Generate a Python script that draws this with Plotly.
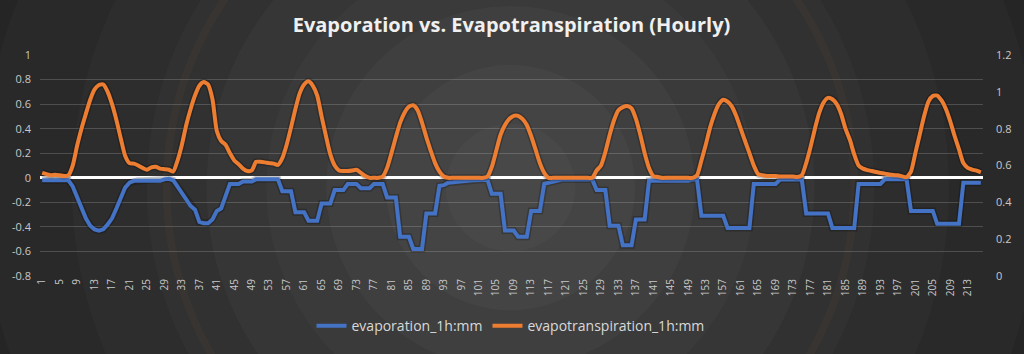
import plotly.graph_objects as go

# ---------------- data ----------------
hours = list(range(1, 217))
x_tick_labels = [str(v) for v in range(1, 217, 4)]

left_ticks = [-0.8, -0.6, -0.4, -0.2, 0, 0.2, 0.4, 0.6, 0.8, 1]
left_tick_text = ["-0.8", "-0.6", "-0.4", "-0.2", "0", "0.2", "0.4", "0.6", "0.8", "1"]
right_ticks = [0, 0.2, 0.4, 0.6, 0.8, 1.0, 1.2]
right_tick_text = ["0", "0.2", "0.4", "0.6", "0.8", "1", "1.2"]

evaporation = [
    -0.02, -0.02, -0.02, -0.02, -0.02, -0.02, -0.02, -0.07, -0.16, -0.25,        # 1-10
    -0.33, -0.39, -0.42, -0.43, -0.42, -0.38, -0.33, -0.25, -0.16, -0.08,        # 11-20
    -0.04, -0.025, -0.025, -0.025, -0.025, -0.025, -0.025, -0.025, -0.013, -0.008,  # 21-30
    -0.02, -0.07, -0.12, -0.18, -0.23, -0.26, -0.36, -0.37, -0.37, -0.34,        # 31-40
    -0.27, -0.25, -0.15, -0.05, -0.05, -0.05, -0.03, -0.03, -0.03, -0.013,       # 41-50
    -0.013, -0.013, -0.013, -0.013, -0.013, -0.11, -0.11, -0.11, -0.28, -0.28,   # 51-60
    -0.28, -0.35, -0.35, -0.35, -0.21, -0.21, -0.21, -0.10, -0.10, -0.10,        # 61-70
    -0.05, -0.05, -0.05, -0.085, -0.085, -0.085, -0.05, -0.05, -0.05, -0.16,     # 71-80
    -0.16, -0.16, -0.48, -0.48, -0.48, -0.58, -0.58, -0.58, -0.29, -0.29,        # 81-90
    -0.29, -0.065, -0.06, -0.04, -0.035, -0.03, -0.027, -0.025, -0.022, -0.02,   # 91-100
    -0.018, -0.016, -0.016, -0.13, -0.13, -0.13, -0.43, -0.43, -0.43, -0.48,     # 101-110
    -0.48, -0.48, -0.27, -0.27, -0.27, -0.05, -0.04, -0.03, -0.02, -0.015,       # 111-120
    -0.015, -0.015, -0.015, -0.015, -0.015, -0.015, -0.015, -0.10, -0.10, -0.10, # 121-130
    -0.39, -0.39, -0.39, -0.55, -0.55, -0.55, -0.34, -0.34, -0.34, -0.025,       # 131-140
    -0.025, -0.025, -0.025, -0.025, -0.025, -0.025, -0.025, -0.025, -0.025, -0.015,  # 141-150
    -0.015, -0.31, -0.31, -0.31, -0.31, -0.31, -0.31, -0.41, -0.41, -0.41,       # 151-160
    -0.41, -0.41, -0.41, -0.05, -0.05, -0.05, -0.05, -0.05, -0.05, -0.015,       # 161-170
    -0.015, -0.015, -0.015, -0.015, -0.015, -0.29, -0.29, -0.29, -0.29, -0.29,   # 171-180
    -0.29, -0.41, -0.41, -0.41, -0.41, -0.41, -0.41, -0.05, -0.05, -0.05,        # 181-190
    -0.05, -0.05, -0.05, -0.013, -0.013, -0.013, -0.013, -0.013, -0.013, -0.27,  # 191-200
    -0.27, -0.27, -0.27, -0.27, -0.27, -0.375, -0.375, -0.375, -0.375, -0.375,   # 201-210
    -0.375, -0.04, -0.04, -0.04, -0.04, -0.04,                                   # 211-216
]

evapotranspiration = [
    0.56, 0.553, 0.547, 0.55, 0.547, 0.543, 0.547, 0.6, 0.707, 0.8,              # 1-10
    0.88, 0.957, 1.013, 1.037, 1.04, 1.0, 0.933, 0.847, 0.747, 0.653,            # 11-20
    0.613, 0.61, 0.6, 0.587, 0.577, 0.59, 0.593, 0.583, 0.58, 0.577,             # 21-30
    0.567, 0.627, 0.713, 0.82, 0.907, 0.98, 1.033, 1.053, 1.04, 0.96,            # 31-40
    0.787, 0.733, 0.713, 0.667, 0.627, 0.607, 0.583, 0.57, 0.573, 0.62,          # 41-50
    0.62, 0.617, 0.613, 0.61, 0.603, 0.64, 0.713, 0.807, 0.907, 0.993,           # 51-60
    1.04, 1.057, 1.033, 0.98, 0.867, 0.76, 0.66, 0.6, 0.573, 0.57,               # 61-70
    0.57, 0.573, 0.577, 0.56, 0.543, 0.533, 0.533, 0.533, 0.54, 0.587,           # 71-80
    0.667, 0.753, 0.833, 0.887, 0.92, 0.927, 0.9, 0.833, 0.753, 0.68,            # 81-90
    0.613, 0.567, 0.54, 0.533, 0.533, 0.533, 0.533, 0.533, 0.533, 0.533,         # 91-100
    0.533, 0.533, 0.54, 0.593, 0.68, 0.767, 0.82, 0.853, 0.87, 0.87,             # 101-110
    0.853, 0.82, 0.76, 0.687, 0.613, 0.56, 0.533, 0.533, 0.533, 0.533,           # 111-120
    0.533, 0.533, 0.533, 0.533, 0.533, 0.533, 0.533, 0.573, 0.6, 0.673,          # 121-130
    0.767, 0.847, 0.9, 0.917, 0.923, 0.91, 0.853, 0.767, 0.667, 0.587,           # 131-140
    0.543, 0.538, 0.533, 0.533, 0.533, 0.533, 0.533, 0.533, 0.533, 0.533,        # 141-150
    0.547, 0.627, 0.713, 0.807, 0.88, 0.933, 0.957, 0.947, 0.92, 0.867,          # 151-160
    0.8, 0.733, 0.667, 0.6, 0.553, 0.547, 0.543, 0.543, 0.543, 0.54,             # 161-170
    0.54, 0.54, 0.54, 0.538, 0.547, 0.613, 0.7, 0.8, 0.887, 0.943,               # 171-180
    0.967, 0.96, 0.933, 0.88, 0.8, 0.74, 0.66, 0.6, 0.583, 0.575,                # 181-190
    0.57, 0.565, 0.56, 0.556, 0.551, 0.548, 0.547, 0.541, 0.537, 0.567,          # 191-200
    0.667, 0.767, 0.867, 0.947, 0.977, 0.98, 0.953, 0.907, 0.84, 0.76,           # 201-210
    0.687, 0.613, 0.587, 0.578, 0.572, 0.563,                                    # 211-216
]
assert len(evaporation) == 216 and len(evapotranspiration) == 216

# ---------------- layout geometry (pixels) ----------------
W, H = 1024, 354
PL, PR, PT, PB = 40, 986, 55, 280   # plot area edges


def circle(cx, cy, r, fill=None, line=None, lw=0):
    return dict(
        type="circle", xref="paper", yref="paper", layer="below",
        x0=(cx - r - PL) / (PR - PL), x1=(cx + r - PL) / (PR - PL),
        y0=(PB - (cy + r)) / (PB - PT), y1=(PB - (cy - r)) / (PB - PT),
        fillcolor=fill if fill else "rgba(0,0,0,0)",
        line=dict(width=lw, color=line if line else "rgba(0,0,0,0)"),
    )


rings = [(640, "#252525"), (530, "#292929"), (440, "#2d2d2d"), (365, "#313131"),
         (305, "#363636"), (245, "#3a3a3a"), (185, "#3f3f3f"), (125, "#444444"),
         (65, "#484848")]
shapes = [circle(512, 190, r, fill=c) for r, c in rings]
shapes.append(circle(512, 190, 345, line="rgba(110,75,50,0.10)", lw=8))

fig = go.Figure()
# soft dark shadows under the lines
fig.add_trace(go.Scatter(
    x=hours, y=evaporation, mode="lines", showlegend=False, hoverinfo="skip",
    line=dict(color="rgba(0,0,0,0.22)", width=7), yaxis="y"))
fig.add_trace(go.Scatter(
    x=hours, y=evapotranspiration, mode="lines", showlegend=False, hoverinfo="skip",
    line=dict(color="rgba(0,0,0,0.22)", width=7, shape="spline", smoothing=0.6), yaxis="y2"))
fig.add_trace(go.Scatter(
    x=hours, y=evaporation, name="evaporation_1h:mm", mode="lines",
    line=dict(color="#4472C4", width=4), yaxis="y"))
fig.add_trace(go.Scatter(
    x=hours, y=evapotranspiration, name="evapotranspiration_1h:mm", mode="lines",
    line=dict(color="#ED7D31", width=4, shape="spline", smoothing=0.6), yaxis="y2"))

tick_font = dict(family="Open Sans", size=11, color="#c8c8c8")

fig.update_layout(
    width=W, height=H,
    margin=dict(l=PL, r=W - PR, t=PT, b=H - PB, pad=0),
    paper_bgcolor="#222222", plot_bgcolor="rgba(0,0,0,0)",
    shapes=shapes,
    title=dict(text="Evaporation vs. Evapotranspiration (Hourly)",
               x=0.5, xanchor="center", xref="paper",
               y=1 - 25 / H, yanchor="middle", yref="container",
               font=dict(family="Open Sans", size=20, color="#f0f0f0", weight="bold")),
    xaxis=dict(range=[0.5, 216.5], tickmode="array",
               tickvals=list(range(1, 217, 4)), ticktext=x_tick_labels,
               tickangle=-90, tickfont=dict(family="Open Sans", size=10, color="#c8c8c8"),
               showgrid=False, zeroline=False, showline=False, ticks=""),
    yaxis=dict(range=[-0.8, 1.0], tickmode="array", tickvals=left_ticks,
               ticktext=left_tick_text, tickfont=tick_font,
               showgrid=True, gridcolor="rgba(210,210,210,0.22)", gridwidth=1,
               zeroline=True, zerolinecolor="#ffffff", zerolinewidth=3,
               showline=False, ticks="", ticklabelstandoff=8),
    yaxis2=dict(range=[0, 1.2], tickmode="array", tickvals=right_ticks,
                ticktext=right_tick_text, tickfont=tick_font,
                overlaying="y", side="right", showgrid=False, zeroline=False,
                showline=False, ticks="", ticklabelstandoff=12),
    legend=dict(orientation="h", x=(512 - PL) / (PR - PL), xanchor="center",
                y=(PB - 331) / (PB - PT), yanchor="middle",
                font=dict(family="Open Sans", size=14, color="#d9d9d9"),
                bgcolor="rgba(0,0,0,0)", itemwidth=30),
    showlegend=True,
)

fig.write_html("out.html")
